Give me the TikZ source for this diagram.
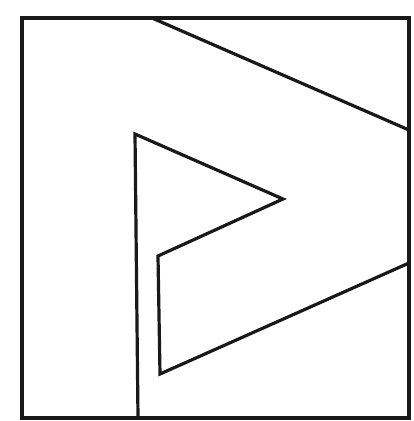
\documentclass[tikz,border=0pt]{standalone}
\begin{document}
\begin{tikzpicture}[x=1pt,y=-1pt, line/.style={draw=black!90, line width=3.2pt, line join=miter}]
\useasboundingbox (0,0) rectangle (413,421);
\coordinate (tl) at (22,18);
\coordinate (tr) at (409,18);
\coordinate (br) at (409,418);
\coordinate (bl) at (22,418);
\draw[line] (tl) -- (tr) -- (br) -- (bl) -- cycle;
\coordinate (d1) at (152,18);
\coordinate (d2) at (409,130);
\draw[line] (d1) -- (d2);
\coordinate (a) at (135,134);
\coordinate (b) at (283,199);
\coordinate (c) at (158,256);
\coordinate (d) at (160,374);
\coordinate (e) at (409,263);
\coordinate (f) at (138,418);
\draw[line] (f) -- (a) -- (b) -- (c) -- (d) -- (e);
\end{tikzpicture}
\end{document}
